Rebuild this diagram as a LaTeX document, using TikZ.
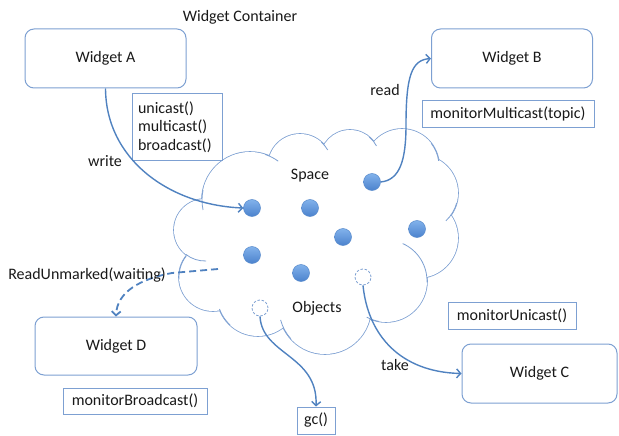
\documentclass[tikz,border=0pt]{standalone}
\usepackage{fontspec}
\setmainfont{Carlito}
\usetikzlibrary{arrows.meta}

\definecolor{boxline}{RGB}{125,160,210}
\definecolor{flow}{RGB}{80,130,192}
\definecolor{dotlight}{RGB}{130,178,235}
\definecolor{dotdark}{RGB}{75,130,205}
\definecolor{dotline}{RGB}{90,140,205}
\definecolor{txt}{RGB}{25,25,25}

\tikzset{
  base font/.style={font=\fontsize{16}{18.3}\selectfont, text=txt},
  widget/.style={base font, draw=boxline, line width=1pt, rounded corners=9pt,
    fill=white, minimum width=161pt, minimum height=59pt, inner sep=0pt},
  apibox/.style={base font, draw=boxline, line width=1pt, fill=white,
    inner sep=0pt},
  lbl/.style={base font, inner sep=0pt},
  obj/.style={circle, minimum size=17pt, inner sep=0pt, draw=dotline,
    line width=0.5pt, top color=dotlight, bottom color=dotdark},
  ghost/.style={circle, minimum size=16pt, inner sep=0pt, draw=boxline,
    line width=0.8pt, dash pattern=on 2.4pt off 1.8pt, fill=white},
  flowline/.style={draw=flow, line width=1.4pt,
    -{Straight Barb[length=4pt,width=9pt]}},
  waitline/.style={draw=flow, line width=1.8pt, dash pattern=on 7pt off 4pt,
    -{Straight Barb[length=4pt,width=9pt]}},
  lobe stroke/.style={draw=boxline, line width=1.6pt},
  lobe arc/.style={draw=boxline, line width=0.8pt},
}

\begin{document}
\begin{tikzpicture}[x=1pt, y=-1pt]
\useasboundingbox (0,0) rectangle (619,436);

% ---- the space: a cloud built from overlapping lobes ----
\def\lobes{250/200/48, 300/166/32, 350/160/30, 402/166/37, 420/193/38,
  418/238/40, 386/281/41, 325/308/46, 258/295/41, 213/277/34, 205/230/31}
\foreach \cx/\cy/\cr in \lobes { \draw[lobe stroke] (\cx,\cy) circle[radius=\cr]; }
\foreach \cx/\cy/\cr in \lobes { \fill[white] (\cx,\cy) circle[radius=\cr]; }
\fill[white] (250,200) -- (300,166) -- (350,160) -- (402,166) -- (420,193)
  -- (418,238) -- (386,281) -- (325,308) -- (258,295) -- (213,277)
  -- (205,230) -- cycle;
% short inner strokes where one lobe runs into the next
\foreach \cx/\cy/\cr/\aa/\ab in {
  250/200/48/168/192, 250/200/48/288/306, 300/166/32/312/330,
  350/160/30/310/332, 402/166/37/322/352, 420/193/38/15/47,
  386/281/41/-66/2, 386/281/41/100/118, 325/308/46/138/165,
  258/295/41/133/160, 213/277/34/176/218, 205/230/31/88/128}
  { \draw[lobe arc] (\cx,\cy) ++(\aa:\cr) arc[start angle=\aa, end angle=\ab, radius=\cr]; }

\node[lbl] (space) at (310,176) {Space};
\node[lbl] (objects) at (317,308) {Objects};

% objects in the space
\node[obj] (d1) at (252,208) {};
\node[obj] (d2) at (310,208) {};
\node[obj] (d3) at (372,182) {};
\node[obj] (d4) at (343,237) {};
\node[obj] (d5) at (417,229) {};
\node[obj] (d6) at (252,255) {};
\node[obj] (d7) at (301,273) {};
\node[ghost] (g1) at (363,277) {};
\node[ghost] (g2) at (260,308) {};

% ---- widgets ----
\node[lbl] (title) at (240,17) {Widget Container};
\node[widget] (wa) at (105.5,58.5) {Widget A};
\node[widget] (wb) at (512,58.5) {Widget B};
\node[widget, minimum width=155pt] (wc) at (539.5,373.5) {Widget C};
\node[widget, minimum width=162pt, minimum height=58pt] (wd) at (116,346) {Widget D};

% ---- api boxes ----
\node[apibox, minimum width=90pt, minimum height=66pt, align=left,
  text width=78pt, inner xsep=6pt] (api) at (177,127)
  {unicast()\\multicast()\\broadcast()};
\node[apibox, minimum width=172pt, minimum height=26pt] (mm) at (508,114) {monitorMulticast(topic)};
\node[apibox, minimum width=128pt, minimum height=27pt] (mu) at (512,315.5) {monitorUnicast()};
\node[apibox, minimum width=144pt, minimum height=26pt] (mb) at (135,401) {monitorBroadcast()};
\node[apibox, minimum width=38pt, minimum height=27pt] (gc) at (316,420.5) {gc()};

% ---- flows ----
\draw[flowline] (wa.south) .. controls (106,160) and (170,205) .. (d1.west);
\node[lbl] (write) at (105,161) {write};

\draw[flowline] (d3.east) .. controls (400,180) and (406,160) .. (406,125)
  .. controls (406,75) and (412,60) .. (wb.west);
\node[lbl] (read) at (385,90) {read};

\coordinate (ru) at (218,269);
\draw[waitline] (ru) -- (172,273) .. controls (140,279) and (117,292) .. (wd.north);
\node[lbl] (unmarked) at (87,275) {ReadUnmarked(waiting)};

\draw[flowline] (g2.south) .. controls (262,355) and (318,355) .. (gc.north);

\draw[flowline] (g1.south) .. controls (368,335) and (400,372) .. (wc.west);
\node[lbl] (take) at (395,365) {take};
\end{tikzpicture}
\end{document}
